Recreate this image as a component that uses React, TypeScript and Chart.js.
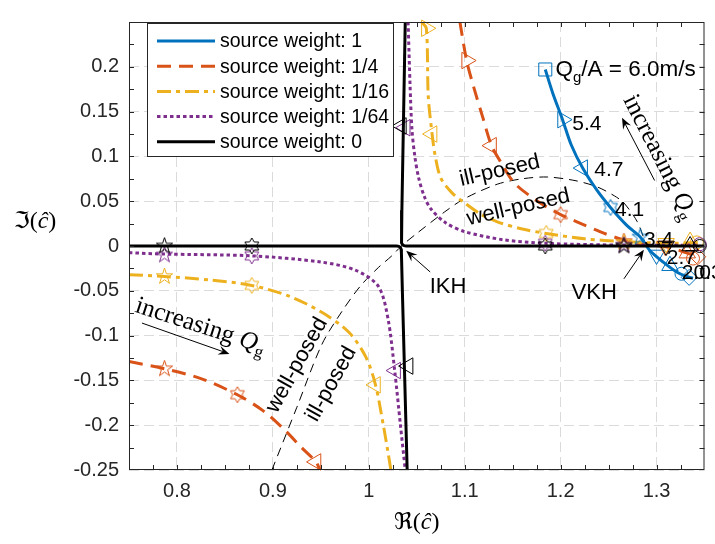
import { useEffect, useRef } from "react";
import { Chart, registerables } from "chart.js";

Chart.register(...registerables);

// ---------- tick values / labels ----------
const xTickValues = [0.8, 0.9, 1.0, 1.1, 1.2, 1.3];
const xTickLabels = ["0.8", "0.9", "1", "1.1", "1.2", "1.3"];
const yTickValues = [-0.25, -0.2, -0.15, -0.1, -0.05, 0, 0.05, 0.1, 0.15, 0.2];
const yTickLabels = ["-0.25", "-0.2", "-0.15", "-0.1", "-0.05", "0", "0.05", "0.1", "0.15", "0.2"];

const seriesNames = [
  "source weight: 1",
  "source weight: 1/4",
  "source weight: 1/16",
  "source weight: 1/64",
  "source weight: 0",
];

// ---------- curves ----------
// weight 1
const w1X = [1.184, 1.192, 1.202, 1.211, 1.223, 1.238, 1.252, 1.269, 1.283, 1.293, 1.307, 1.321, 1.331, 1.338];
const w1Y = [0.197, 0.17, 0.141, 0.113, 0.087, 0.062, 0.043, 0.023, 0.01, -0.005, -0.018, -0.029, -0.034, -0.036];
// weight 1/4
const w4UpX = [1.095, 1.102, 1.11, 1.119, 1.128, 1.138, 1.152, 1.176, 1.2, 1.217, 1.241, 1.259, 1.275, 1.295, 1.315, 1.332, 1.345];
const w4UpY = [0.25, 0.207, 0.175, 0.143, 0.112, 0.093, 0.07, 0.05, 0.035, 0.027, 0.016, 0.009, 0.004, 0.001, -0.002, -0.008, -0.012];
const w4LoX = [0.75, 0.787, 0.825, 0.863, 0.89, 0.912, 0.93, 0.945, 0.949];
const w4LoY = [-0.129, -0.137, -0.148, -0.166, -0.184, -0.205, -0.225, -0.241, -0.25];
// weight 1/16
const w16UpX = [1.055, 1.06, 1.062, 1.066, 1.069, 1.075, 1.087, 1.1, 1.116, 1.134, 1.16, 1.185, 1.225, 1.266, 1.31, 1.345];
const w16UpY = [0.25, 0.243, 0.167, 0.125, 0.102, 0.076, 0.059, 0.048, 0.036, 0.027, 0.019, 0.014, 0.008, 0.005, 0.003, 0.004];
const w16LoX = [0.75, 0.787, 0.835, 0.878, 0.917, 0.951, 0.979, 0.997, 1.007, 1.015, 1.02, 1.023];
const w16LoY = [-0.032, -0.034, -0.038, -0.044, -0.056, -0.074, -0.096, -0.124, -0.155, -0.199, -0.23, -0.25];
// weight 1/64
const w64UpX = [1.041, 1.043, 1.045, 1.048, 1.052, 1.058, 1.065, 1.08, 1.1, 1.14, 1.184, 1.266, 1.345];
const w64UpY = [0.25, 0.18, 0.13, 0.1, 0.076, 0.055, 0.041, 0.026, 0.016, 0.007, 0.003, 0.001, 0.001];
const w64LoX = [0.75, 0.787, 0.878, 0.951, 0.986, 1.01, 1.02, 1.027, 1.033, 1.038];
const w64LoY = [-0.0075, -0.009, -0.011, -0.018, -0.027, -0.045, -0.081, -0.139, -0.2, -0.25];
// weight 0
const w0RightX = [1.038, 1.036, 1.0345, 1.034, 1.0343, 1.0352, 1.0368, 1.039, 1.35];
const w0RightY = [0.25, 0.13, 0.04, 0.007, 0.0035, 0.0015, 0.0004, 0.0, 0.0];
const w0LeftX = [0.75, 1.029, 1.0312, 1.0328, 1.0337, 1.034, 1.035, 1.04];
const w0LeftY = [0.0, 0.0, -0.0004, -0.0015, -0.0035, -0.007, -0.05, -0.25];
// well-/ill-posed boundary
const bndX = [0.899, 0.925, 0.951, 0.972, 0.991, 1.01, 1.024, 1.034, 1.05, 1.079, 1.1, 1.134, 1.16, 1.186, 1.215, 1.238, 1.256, 1.266, 1.28, 1.287];
const bndY = [-0.25, -0.18, -0.11, -0.073, -0.045, -0.024, -0.011, 0.0, 0.014, 0.038, 0.053, 0.069, 0.075, 0.077, 0.073, 0.066, 0.056, 0.048, 0.027, 0.008];

// ---------- markers (s square, > < v ^ triangles, h hexagram, p pentagram, o circle, d diamond) ----------
const w1MX = [1.184, 1.202, 1.223, 1.252, 1.283, 1.3, 1.314, 1.326, 1.334];
const w1MY = [0.197, 0.141, 0.087, 0.043, 0.01, -0.01, -0.022, -0.031, -0.035];
const w1MT = ["s", ">", "<", "h", "p", "v", "^", "o", "d"];

const w4MX = [1.102, 1.128, 1.2, 1.266, 1.309, 1.332, 1.338, 1.343, 0.787, 0.863, 0.945];
const w4MY = [0.207, 0.112, 0.035, 0.005, 0.0, -0.008, -0.014, -0.012, -0.137, -0.166, -0.241];
const w4MT = [">", "<", "h", "p", "v", "^", "o", "d", "p", "h", "<"];

const w16MX = [1.06, 1.066, 1.185, 1.266, 1.31, 1.335, 1.342, 0.787, 0.878, 1.007];
const w16MY = [0.243, 0.125, 0.014, 0.004, 0.003, 0.005, 0.004, -0.034, -0.044, -0.155];
const w16MT = [">", "<", "h", "p", "v", "^", "o", "p", "h", "<"];

const w64MX = [1.038, 1.184, 1.266, 1.345, 0.787, 0.878, 1.028];
const w64MY = [0.132, 0.003, 0.001, 0.002, -0.01, -0.011, -0.139];
const w64MT = ["<", "h", "p", "o", "p", "h", "<"];

const w0MX = [0.787, 0.878, 1.034, 1.041, 1.184, 1.266, 1.31, 1.335, 1.345];
const w0MY = [0.0, 0.0, 0.134, -0.134, 0.0, 0.0, 0.0, 0.0, 0.0];
const w0MT = ["p", "h", "<", "<", "h", "p", "v", "^", "o"];

// ---------- styling ----------
const C_BLUE = "#0072BD";
const C_ORANGE = "#D95319";
const C_YELLOW = "#EDB120";
const C_PURPLE = "#7E2F8E";
const C_BLACK = "#000000";
const AX = "#262626";
const SANS = '"Liberation Sans", Arial, Helvetica, sans-serif';
const SERIF = '"Liberation Serif", "Times New Roman", serif';
const FRAK = '"DejaVu Serif", "DejaVu Sans", serif';

const DASH_ORANGE = [14, 8];
const DASH_YELLOW = [14, 5, 4, 5];
const DASH_PURPLE = [3.5, 3];

type Run = { t: string; font: string; dy?: number };
type Note = { runs: Run[]; x: number; y: number; rot: number; align: "left" | "center" };

const F22 = `22px ${SANS}`;
const F21 = `21px ${SANS}`;
const notes: Note[] = [
  { runs: [{ t: "Q", font: `22.5px ${SANS}` }, { t: "g", font: `15px ${SANS}`, dy: 6 }, { t: "/A = 6.0m/s", font: `22.5px ${SANS}` }], x: 1.1946, y: 0.19, rot: 0, align: "left" },
  { runs: [{ t: "5.4", font: F21 }], x: 1.2122, y: 0.129, rot: 0, align: "left" },
  { runs: [{ t: "4.7", font: F21 }], x: 1.235, y: 0.0785, rot: 0, align: "left" },
  { runs: [{ t: "4.1", font: F21 }], x: 1.2567, y: 0.0333, rot: 0, align: "left" },
  { runs: [{ t: "3.4", font: F21 }], x: 1.2868, y: 0.0, rot: 0, align: "left" },
  { runs: [{ t: "2.7", font: F21 }], x: 1.3106, y: -0.0204, rot: 0, align: "left" },
  { runs: [{ t: "2.0", font: F21 }], x: 1.3262, y: -0.0366, rot: 0, align: "left" },
  { runs: [{ t: "0.3", font: F21 }], x: 1.3386, y: -0.0366, rot: 0, align: "left" },
  { runs: [{ t: "ill-posed", font: F22 }], x: 1.1365, y: 0.0839, rot: -13, align: "center" },
  { runs: [{ t: "well-posed", font: F22 }], x: 1.156, y: 0.043, rot: -13, align: "center" },
  { runs: [{ t: "well-posed", font: F22 }], x: 0.925, y: -0.133, rot: -61, align: "center" },
  { runs: [{ t: "ill-posed", font: F22 }], x: 0.961, y: -0.154, rot: -61, align: "center" },
  { runs: [{ t: "IKH", font: F22 }], x: 1.0826, y: -0.046, rot: 0, align: "center" },
  { runs: [{ t: "VKH", font: F22 }], x: 1.235, y: -0.052, rot: 0, align: "center" },
  {
    runs: [{ t: "increasing ", font: `25px ${SERIF}` }, { t: "Q", font: `italic 25px ${SERIF}` }, { t: "g", font: `17px ${SERIF}`, dy: 5 }],
    x: 1.265, y: 0.1634, rot: 63, align: "left",
  },
  {
    runs: [{ t: "increasing ", font: `25px ${SERIF}` }, { t: "Q", font: `italic 25px ${SERIF}` }, { t: "g", font: `17px ${SERIF}`, dy: 5 }],
    x: 0.7552, y: -0.0731, rot: 18, align: "left",
  },
];

const arrows = [
  { x0: 1.064, y0: -0.029, x1: 1.039, y1: -0.0054 },
  { x0: 1.266, y0: -0.0366, x1: 1.2868, y1: -0.0043 },
  { x0: 1.298, y0: 0.0731, x1: 1.264, y1: 0.143 },
  { x0: 0.7635, y0: -0.086, x1: 0.8547, y1: -0.1204 },
];

// ---------- helpers ----------
const starCache: Record<string, HTMLCanvasElement> = {};
function starCanvas(n: number, R: number, ratio: number, color: string) {
  const key = `${n}-${color}`;
  if (starCache[key]) return starCache[key];
  const size = Math.ceil(2 * R + 4);
  const c = document.createElement("canvas");
  c.width = size;
  c.height = size;
  const g = c.getContext("2d")!;
  g.strokeStyle = color;
  g.lineWidth = 1;
  g.beginPath();
  for (let i = 0; i < 2 * n; i++) {
    const a = -Math.PI / 2 + (i * Math.PI) / n;
    const rr = i % 2 === 0 ? R : R * ratio;
    const X = size / 2 + rr * Math.cos(a);
    const Y = size / 2 + rr * Math.sin(a);
    if (i === 0) g.moveTo(X, Y);
    else g.lineTo(X, Y);
  }
  g.closePath();
  g.stroke();
  starCache[key] = c;
  return c;
}

function markerProps(t: string, color: string): { style: any; rot: number; r: number } {
  switch (t) {
    case "s": return { style: "rect", rot: 0, r: 9.2 };
    case ">": return { style: "triangle", rot: 90, r: 9.5 };
    case "<": return { style: "triangle", rot: -90, r: 9.5 };
    case "v": return { style: "triangle", rot: 180, r: 9.5 };
    case "^": return { style: "triangle", rot: 0, r: 9.5 };
    case "o": return { style: "circle", rot: 0, r: 6.5 };
    case "d": return { style: "rectRot", rot: 0, r: 8 };
    case "h": return { style: starCanvas(6, 8, 0.577, color), rot: 0, r: 8 };
    default: return { style: starCanvas(5, 8.5, 0.382, color), rot: 0, r: 8 };
  }
}

const pts = (xs: number[], ys: number[]) => xs.map((x, i) => ({ x, y: ys[i] }));

function lineDs(label: string, xs: number[], ys: number[], color: string, width: number, dash: number[], order: number, tension = 0.3) {
  return {
    label,
    data: pts(xs, ys),
    showLine: true,
    borderColor: color,
    borderWidth: width,
    borderDash: dash,
    pointRadius: 0,
    fill: false,
    tension,
    order,
  };
}

function markDs(label: string, xs: number[], ys: number[], ts: string[], color: string, order: number) {
  const props = ts.map((t) => markerProps(t, color));
  return {
    label,
    data: pts(xs, ys),
    showLine: false,
    pointStyle: props.map((p) => p.style),
    pointRotation: props.map((p) => p.rot),
    pointRadius: props.map((p) => p.r),
    pointBorderColor: color,
    pointBackgroundColor: "rgba(0,0,0,0)",
    pointBorderWidth: 1,
    clip: false as any,
    order,
  };
}

function drawRuns(ctx: CanvasRenderingContext2D, runs: Run[], x: number, y: number, rot: number, align: "left" | "center") {
  ctx.save();
  ctx.translate(x, y);
  ctx.rotate((rot * Math.PI) / 180);
  let total = 0;
  const ws = runs.map((r) => {
    ctx.font = r.font;
    const w = ctx.measureText(r.t).width;
    total += w;
    return w;
  });
  let cx = align === "center" ? -total / 2 : 0;
  ctx.textBaseline = align === "center" ? "middle" : "alphabetic";
  ctx.textAlign = "left";
  ctx.fillStyle = "#000";
  runs.forEach((r, i) => {
    ctx.font = r.font;
    ctx.fillText(r.t, cx, r.dy || 0);
    cx += ws[i];
  });
  ctx.restore();
}

function drawArrow(ctx: CanvasRenderingContext2D, x0: number, y0: number, x1: number, y1: number) {
  const a = Math.atan2(y1 - y0, x1 - x0);
  const L = 11, W = 4.5, N = 7;
  ctx.save();
  ctx.strokeStyle = "#000";
  ctx.fillStyle = "#000";
  ctx.lineWidth = 1;
  ctx.beginPath();
  ctx.moveTo(x0, y0);
  ctx.lineTo(x1 - Math.cos(a) * N, y1 - Math.sin(a) * N);
  ctx.stroke();
  const bx = x1 - Math.cos(a) * L, by = y1 - Math.sin(a) * L;
  const nx = -Math.sin(a), ny = Math.cos(a);
  ctx.beginPath();
  ctx.moveTo(x1, y1);
  ctx.lineTo(bx + nx * W, by + ny * W);
  ctx.lineTo(x1 - Math.cos(a) * N, y1 - Math.sin(a) * N);
  ctx.lineTo(bx - nx * W, by - ny * W);
  ctx.closePath();
  ctx.fill();
  ctx.restore();
}

const decorPlugin = {
  id: "decor",
  afterDatasetsDraw(chart: any) {
    const ctx: CanvasRenderingContext2D = chart.ctx;
    const xs = chart.scales.x, ys = chart.scales.y;
    const { left, right, top, bottom } = chart.chartArea;
    // axes box + ticks
    ctx.save();
    ctx.strokeStyle = AX;
    ctx.lineWidth = 1;
    ctx.strokeRect(left + 0.5, top + 0.5, right - left - 1, bottom - top - 1);
    ctx.beginPath();
    for (let i = 30; i <= 54; i++) {
      const v = i * 0.025;
      const p = Math.round(xs.getPixelForValue(v)) + 0.5;
      if (p < left + 1 || p > right - 1) continue;
      ctx.moveTo(p, bottom);
      ctx.lineTo(p, bottom - 5);
      ctx.moveTo(p, top);
      ctx.lineTo(p, top + 5);
    }
    for (let i = -10; i <= 10; i++) {
      const v = i * 0.025;
      const p = Math.round(ys.getPixelForValue(v)) + 0.5;
      if (p < top + 1 || p > bottom - 1) continue;
      ctx.moveTo(left, p);
      ctx.lineTo(left + 5, p);
      ctx.moveTo(right, p);
      ctx.lineTo(right - 5, p);
    }
    ctx.stroke();
    ctx.restore();

    // annotations
    notes.forEach((n) => drawRuns(ctx, n.runs, xs.getPixelForValue(n.x), ys.getPixelForValue(n.y), n.rot, n.align));
    arrows.forEach((a) =>
      drawArrow(ctx, xs.getPixelForValue(a.x0), ys.getPixelForValue(a.y0), xs.getPixelForValue(a.x1), ys.getPixelForValue(a.y1))
    );

    // legend
    ctx.save();
    const lx = 147.5, ly = 23.5, lw = 246, lh = 133;
    ctx.fillStyle = "#fff";
    ctx.fillRect(lx, ly, lw, lh);
    ctx.strokeStyle = AX;
    ctx.lineWidth = 1;
    ctx.strokeRect(lx, ly, lw, lh);
    const styles = [
      { c: C_BLUE, d: [] as number[] },
      { c: C_ORANGE, d: DASH_ORANGE },
      { c: C_YELLOW, d: DASH_YELLOW },
      { c: C_PURPLE, d: DASH_PURPLE },
      { c: C_BLACK, d: [] as number[] },
    ];
    seriesNames.forEach((name, i) => {
      const yy = 41 + i * 25.2;
      ctx.strokeStyle = styles[i].c;
      ctx.lineWidth = 3;
      ctx.setLineDash(styles[i].d);
      ctx.beginPath();
      ctx.moveTo(157, yy);
      ctx.lineTo(215, yy);
      ctx.stroke();
      ctx.setLineDash([]);
      ctx.fillStyle = "#000";
      ctx.font = `19.5px ${SANS}`;
      ctx.textBaseline = "middle";
      ctx.textAlign = "left";
      ctx.fillText(name, 220, yy + 1);
    });
    ctx.restore();

    // axis titles
    const cx = (left + right) / 2;
    drawRuns(ctx, [{ t: "\u211C", font: `23px ${FRAK}` }, { t: "(", font: `24px ${SERIF}` }, { t: "\u0109", font: `italic 24px ${SERIF}` }, { t: ")", font: `24px ${SERIF}` }], cx, 523, 0, "center");
    drawRuns(ctx, [{ t: "\u2111", font: `23px ${FRAK}` }, { t: "(", font: `24px ${SERIF}` }, { t: "\u0109", font: `italic 24px ${SERIF}` }, { t: ")", font: `24px ${SERIF}` }], 35, 222, 0, "center");
  },
};

export default function App() {
  const ref = useRef<HTMLCanvasElement | null>(null);
  useEffect(() => {
    if (!ref.current) return;
    const chart = new Chart(ref.current, {
      type: "scatter",
      data: {
        datasets: [
          lineDs("boundary", bndX, bndY, "#000", 1, [9, 6], 30, 0.3) as any,
          lineDs(seriesNames[0], w1X, w1Y, C_BLUE, 3, [], 29),
          lineDs(seriesNames[1], w4UpX, w4UpY, C_ORANGE, 3, DASH_ORANGE, 28),
          lineDs(seriesNames[1] + " lower", w4LoX, w4LoY, C_ORANGE, 3, DASH_ORANGE, 28),
          lineDs(seriesNames[2], w16UpX, w16UpY, C_YELLOW, 3, DASH_YELLOW, 27),
          lineDs(seriesNames[2] + " lower", w16LoX, w16LoY, C_YELLOW, 3, DASH_YELLOW, 27),
          lineDs(seriesNames[3], w64UpX, w64UpY, C_PURPLE, 3, DASH_PURPLE, 26),
          lineDs(seriesNames[3] + " lower", w64LoX, w64LoY, C_PURPLE, 3, DASH_PURPLE, 26),
          markDs("m1", w1MX, w1MY, w1MT, C_BLUE, 20),
          markDs("m4", w4MX, w4MY, w4MT, C_ORANGE, 19),
          markDs("m16", w16MX, w16MY, w16MT, C_YELLOW, 18),
          markDs("m64", w64MX, w64MY, w64MT, C_PURPLE, 17),
          markDs("m0", w0MX, w0MY, w0MT, C_BLACK, 16),
          lineDs(seriesNames[4], w0RightX, w0RightY, C_BLACK, 3, [], 10, 0),
          lineDs(seriesNames[4] + " left", w0LeftX, w0LeftY, C_BLACK, 3, [], 10, 0),
        ] as any,
      },
      options: {
        animation: false,
        responsive: false,
        events: [],
        layout: { padding: { left: 0, right: 7, top: 5, bottom: 0 } },
        plugins: { legend: { display: false }, tooltip: { enabled: false } },
        scales: {
          x: {
            type: "linear",
            min: 0.75,
            max: 1.35,
            afterBuildTicks: (s: any) => {
              s.ticks = xTickValues.map((v) => ({ value: v }));
            },
            afterFit: (s: any) => {
              s.height = 74;
            },
            ticks: {
              callback: (_v: any, i: number) => xTickLabels[i],
              font: { family: SANS, size: 20 },
              color: AX,
              padding: 9,
              maxRotation: 0,
              autoSkip: false,
            },
            grid: { color: "rgba(0,0,0,0.14)", lineWidth: 1, drawTicks: false },
            border: { display: false, dash: [10, 5] },
          },
          y: {
            type: "linear",
            min: -0.25,
            max: 0.25,
            afterBuildTicks: (s: any) => {
              s.ticks = yTickValues.map((v) => ({ value: v }));
            },
            afterFit: (s: any) => {
              s.width = 129;
            },
            ticks: {
              callback: (_v: any, i: number) => yTickLabels[i],
              font: { family: SANS, size: 20 },
              color: AX,
              padding: 10,
              autoSkip: false,
            },
            grid: { color: "rgba(0,0,0,0.14)", lineWidth: 1, drawTicks: false },
            border: { display: false, dash: [10, 5] },
          },
        },
      } as any,
      plugins: [decorPlugin as any],
    });
    return () => chart.destroy();
  }, []);
  return (
    <div style={{ position: "fixed", left: 0, top: 0, width: 715, height: 544, background: "#fff" }}>
      <canvas ref={ref} width={715} height={544} style={{ display: "block" }} />
    </div>
  );
}
